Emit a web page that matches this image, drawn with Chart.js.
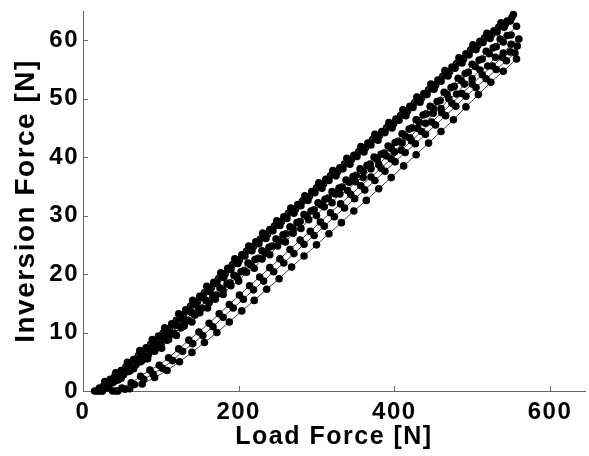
<!DOCTYPE html>
<html>
<head>
<meta charset="utf-8">
<script src="https://cdn.jsdelivr.net/npm/chart.js@4.4.0/dist/chart.umd.min.js"></script>
<style>
  html, body { margin: 0; padding: 0; background: #fff; }
  canvas { display: block; }
</style>
</head>
<body>
<canvas id="forceChart" width="589" height="456"></canvas>
<script>
// Inversion force vs load force, several trials

const xTicks = [0, 200, 400, 600];
const yTicks = [0, 10, 20, 30, 40, 50, 60];

// trial A (top band)
const loadA = [15,21,28,35,42,49,57,65,73,81,89,97,105,114,123,132,141,150,159,168,177,186,195,204,213,222,231,240,249,258,267,276,285,294,303,312,321,330,339,348,357,366,375,384,393,402,411,420,429,438,447,456,465,474,483,492,501,510,519,528,537,545,553];
const invA = [0,0.5,1.6,2.0,3.1,3.5,4.9,5.4,6.9,7.4,8.8,9.4,10.8,11.5,13.2,13.9,15.5,16.2,17.9,18.6,20.2,21.0,22.6,23.3,24.8,25.5,27.0,27.6,29.1,29.8,31.3,31.9,33.4,34.1,35.6,36.2,37.7,38.2,39.8,40.3,41.8,42.4,43.9,44.4,45.9,46.5,48.1,48.7,50.3,50.9,52.5,53.2,54.8,55.4,57.0,57.7,59.2,59.8,61.2,61.6,63.0,63.3,64.4];

// trial A2 (top band, lower edge)
const loadA2 = [18,25,32,39,46,53,61,69,77,85,93,101,109,118,127,136,145,154,163,172,181,190,199,208,217,226,235,244,253,262,271,280,289,298,307,316,325,334,343,352,361,370,379,388,397,406,415,424,433,442,451,460,469,478,487,496,505,514,523,532,541,549];
const invA2 = [0,0.3,1.0,1.7,2.3,3.3,4.0,5.2,6.0,7.2,8.0,9.1,10.0,11.3,12.3,13.7,14.7,16.0,17.0,18.4,19.4,20.8,21.8,23.1,24.0,25.2,26.1,27.4,28.3,29.5,30.4,31.7,32.6,33.9,34.7,36.0,36.8,38.0,38.8,40.1,40.9,42.1,42.9,44.2,45.0,46.3,47.1,48.5,49.4,50.7,51.6,53.0,53.9,55.2,56.1,57.5,58.4,59.6,60.3,61.4,62.2,63.3];

// trial A3 (top band, middle)
const loadA3 = [21,27,34,41,48,55,63,71,79,87,95,103,111,120,129,138,147,156,165,174,183,192,201,210,219,228,237,246,255,264,273,282,291,300,309,318,327,336,345,354,363,372,381,390,399,408,417,426,435,444,453,462,471,480,489,498,507,516,525,534,543,551];
const invA3 = [0.2,1.0,1.5,2.6,3.0,4.1,4.8,6.0,6.7,8.0,8.7,9.9,10.7,12.1,13.0,14.5,15.3,16.8,17.7,19.2,20.1,21.6,22.4,23.9,24.7,26.0,26.8,28.2,29.0,30.4,31.1,32.5,33.3,34.7,35.4,36.8,37.5,38.8,39.6,40.9,41.6,43.0,43.7,45.0,45.7,47.1,47.9,49.3,50.1,51.5,52.3,53.8,54.6,56.0,56.8,58.3,59.1,60.4,61.0,62.2,62.8,63.9];

// trial B
const loadB = [20,27,34,41,48,56,64,72,80,88,96,104,113,122,131,140,149,158,167,176,185,194,203,212,221,230,239,248,257,266,275,284,293,302,311,320,329,338,347,356,365,374,383,392,401,410,419,428,437,446,455,464,473,482,491,500,509,518,527,536,545,557];
const invB = [0,0.8,1.2,2.3,2.7,3.9,4.3,5.6,6.0,7.3,7.8,9.1,9.8,11.2,11.9,13.4,14.0,15.5,16.2,17.6,18.3,19.8,20.4,21.9,22.5,24.0,24.6,26.0,26.7,28.1,28.8,30.2,30.8,32.2,32.8,34.1,34.7,36.1,36.7,38.0,38.6,40.0,40.5,41.9,42.5,44.0,44.8,46.4,47.2,48.7,49.5,51.1,51.9,53.5,54.3,55.9,56.6,58.1,58.7,60.2,60.8,62.4];

// trial B2
const loadB2 = [24,31,38,45,52,60,68,76,84,92,100,108,117,126,135,144,153,162,171,180,189,198,207,216,225,234,243,252,261,270,279,288,297,306,315,324,333,342,351,360,369,378,387,396,405,414,423,432,441,450,459,468,477,486,495,504,513,522,531,540,550];
const invB2 = [0,0.5,1.4,1.9,2.8,3.4,4.5,5.2,6.2,6.9,8.0,8.7,9.9,10.8,12.1,13.0,14.2,15.1,16.4,17.2,18.5,19.4,20.6,21.5,22.7,23.6,24.8,25.6,26.9,27.7,29.0,29.8,31.0,31.8,33.0,33.7,34.9,35.7,36.9,37.6,38.8,39.6,40.7,41.5,42.7,43.6,45.0,46.0,47.4,48.3,49.7,50.7,52.1,53.1,54.5,55.5,56.8,57.7,58.9,59.7,60.9];

// trial C
const loadC = [25,33,41,49,57,65,74,83,92,101,110,120,130,140,150,160,170,180,190,200,210,220,230,240,250,260,270,280,290,300,310,320,330,340,350,360,370,380,390,400,410,420,430,440,450,460,470,480,490,500,510,520,530,540,550,560];
const invC = [0,0.7,1.7,2.2,3.3,3.8,5.0,5.5,6.8,7.3,8.8,9.5,11.1,11.8,13.4,14.2,15.7,16.5,18.0,18.8,20.3,21.0,22.6,23.3,24.8,25.5,27.0,27.8,29.3,30.0,31.5,32.2,33.7,34.3,35.8,36.5,38.0,38.7,40.2,40.9,42.4,43.3,44.9,45.8,47.5,48.3,50.0,50.8,52.5,53.4,54.9,55.6,57.1,57.8,59.3,60.2];

// trial D
const loadD = [38,50,62,74,86,98,110,123,136,149,162,175,188,201,214,227,240,253,266,279,292,305,318,331,344,357,370,383,396,409,422,435,448,461,474,487,500,513,526,539,549,558];
const invD = [0,0.5,1.4,2.5,3.6,4.4,5.7,7.2,8.7,10.1,11.6,13.2,14.8,16.4,18.0,19.5,21.1,22.6,24.2,25.8,27.3,28.9,30.5,32.0,33.6,35.1,36.6,38.1,39.7,41.2,42.8,44.4,46.0,47.6,49.2,50.9,52.5,54.1,55.6,57.1,58.0,59.0];

// trial E
const loadE = [42,54,66,78,90,102,115,128,141,154,167,180,193,206,219,232,245,258,271,284,297,310,323,336,349,362,375,388,401,414,427,440,453,466,479,492,505,518,531,544,555];
const invE = [0,0.3,1.1,2.0,2.9,3.9,5.2,6.8,8.1,9.5,11.0,12.6,14.2,15.7,17.3,18.8,20.4,21.9,23.5,25.1,26.6,28.2,29.8,31.3,32.9,34.4,36.0,37.6,39.2,40.8,42.3,43.9,45.5,47.1,48.7,50.4,51.9,53.4,55.0,56.5,57.8];

// trial F (lowest, sparse)
const loadF = [45,60,76,92,108,124,140,156,172,188,204,220,236,252,268,284,300,316,332,348,364,380,396,412,428,444,460,476,492,508,524,540,557];
const invF = [0,0.4,1.2,2.3,3.5,5.0,6.6,8.3,10.0,11.8,13.7,15.5,17.4,19.2,21.2,23.1,25.0,26.9,28.8,30.8,32.6,34.6,36.5,38.5,40.4,42.4,44.4,46.4,48.6,50.7,52.8,54.7,56.8];

const trials = [
  [loadA, invA], [loadA2, invA2], [loadA3, invA3], [loadB, invB], [loadB2, invB2],
  [loadC, invC], [loadD, invD], [loadE, invE], [loadF, invF]
];

const FONT = 'Liberation Sans, Arial, Helvetica, sans-serif';

const spacing = {
  id: 'spacing',
  beforeLayout(chart) { chart.ctx.letterSpacing = '1.5px'; },
  beforeDraw(chart) { chart.ctx.letterSpacing = '1.5px'; }
};

// matlab style ticks, pointing into the axes
const innerTicks = {
  id: 'innerTicks',
  afterDraw(chart) {
    const ctx = chart.ctx;
    const xs = chart.scales.x, ys = chart.scales.y;
    const area = chart.chartArea;
    ctx.save();
    ctx.strokeStyle = '#666';
    ctx.lineWidth = 1;
    ctx.beginPath();
    xTicks.forEach(v => {
      const px = Math.round(xs.getPixelForValue(v)) + 0.5;
      ctx.moveTo(px, area.bottom);
      ctx.lineTo(px, area.bottom - 5);
    });
    yTicks.forEach(v => {
      const py = Math.round(ys.getPixelForValue(v)) + 0.5;
      ctx.moveTo(area.left, py);
      ctx.lineTo(area.left + 5, py);
    });
    ctx.stroke();
    ctx.restore();
  }
};

new Chart(document.getElementById('forceChart'), {
  type: 'scatter',
  data: {
    datasets: trials.map(([load, inv]) => ({
      data: load.map((x, i) => ({ x: x, y: inv[i] })),
      showLine: true,
      borderColor: '#444',
      borderWidth: 1,
      pointRadius: 3.8,
      pointBackgroundColor: '#000',
      pointBorderWidth: 0,
      clip: false
    }))
  },
  options: {
    responsive: false,
    animation: false,
    devicePixelRatio: 1,
    layout: { padding: { top: 11, right: 0, left: 0, bottom: 0 } },
    plugins: { legend: { display: false }, tooltip: { enabled: false } },
    scales: {
      x: {
        type: 'linear',
        min: 0,
        max: 645,
        afterBuildTicks: s => { s.ticks = xTicks.map(v => ({ value: v })); },
        afterFit: s => { s.height = 65; s.paddingLeft = 0; s.paddingRight = 0; },
        grid: { display: false, drawTicks: false },
        border: { display: true, color: '#666', width: 1 },
        ticks: { color: '#000', padding: 7, font: { family: FONT, size: 24, weight: 'bold' } },
        title: {
          display: true, text: 'Load Force [N]', color: '#000',
          padding: { top: 0, bottom: 4 },
          font: { family: FONT, size: 25, weight: 'bold' }
        }
      },
      y: {
        type: 'linear',
        min: 0,
        max: 65,
        afterBuildTicks: s => { s.ticks = yTicks.map(v => ({ value: v })); },
        afterFit: s => { s.width = 83; s.paddingTop = 0; s.paddingBottom = 0; },
        grid: { display: false, drawTicks: false },
        border: { display: true, color: '#666', width: 1 },
        ticks: { color: '#000', padding: 4, font: { family: FONT, size: 24, weight: 'bold' } },
        title: {
          display: true, text: 'Inversion Force [N]', color: '#000',
          padding: { top: 9, bottom: 0 },
          font: { family: FONT, size: 28, weight: 'bold' }
        }
      }
    }
  },
  plugins: [spacing, innerTicks]
});
</script>
</body>
</html>
